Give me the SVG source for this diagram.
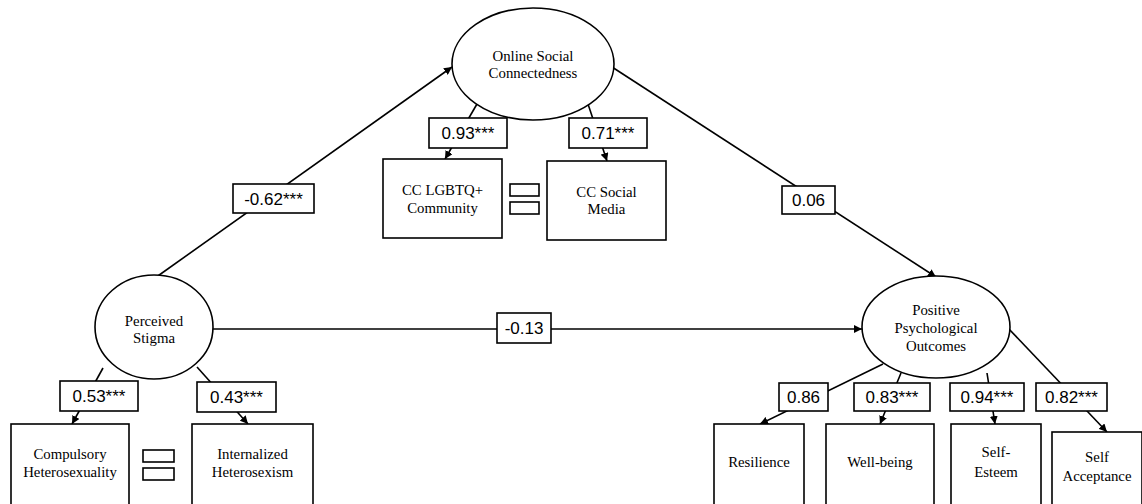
<svg xmlns="http://www.w3.org/2000/svg" width="1142" height="504" viewBox="0 0 1142 504">
  <style>
    .node { fill: #fff; stroke: #000; stroke-width: 1.6; }
    .conn { stroke: #000; stroke-width: 1.6; fill: none; }
    .lbl { fill: #fff; stroke: #000; stroke-width: 1.6; }
    .nt { font-family: "Liberation Serif", "Times New Roman", serif; font-size: 14.8px; fill: #000; text-anchor: middle; }
    .lt { font-family: "Liberation Sans", Arial, sans-serif; font-size: 17px; fill: #000; text-anchor: middle; }
  </style>
  <defs>
    <marker id="arrow" viewBox="0 0 10 10" refX="10" refY="5" markerWidth="8" markerHeight="8" markerUnits="userSpaceOnUse" orient="auto">
      <path d="M0,0 L10,5 L0,10 z" fill="#000"/>
    </marker>
  </defs>
  <rect width="1142" height="504" fill="#fff"/>

  <!-- connectors (drawn beneath the coefficient boxes) -->
  <g id="connectors">
    <line class="conn" x1="155" y1="278" x2="452" y2="67" marker-end="url(#arrow)"/>
    <line class="conn" x1="612" y1="67" x2="936" y2="277" marker-end="url(#arrow)"/>
    <line class="conn" x1="213" y1="329" x2="862" y2="329" marker-end="url(#arrow)"/>
    <line class="conn" x1="477" y1="104" x2="445" y2="159" marker-end="url(#arrow)"/>
    <line class="conn" x1="588" y1="104" x2="607" y2="161" marker-end="url(#arrow)"/>
    <line class="conn" x1="103" y1="368" x2="72" y2="424" marker-end="url(#arrow)"/>
    <line class="conn" x1="197" y1="367" x2="248" y2="424" marker-end="url(#arrow)"/>
    <line class="conn" x1="883" y1="364" x2="760" y2="424" marker-end="url(#arrow)"/>
    <line class="conn" x1="901" y1="373" x2="880" y2="424" marker-end="url(#arrow)"/>
    <line class="conn" x1="987" y1="373" x2="995" y2="424" marker-end="url(#arrow)"/>
    <line class="conn" x1="1008" y1="328" x2="1107" y2="432" marker-end="url(#arrow)"/>

    <!-- path coefficients -->
    <rect class="lbl" x="233" y="184" width="81" height="29"/>
    <text class="lt" x="273.5" y="205">-0.62***</text>
    <rect class="lbl" x="782" y="186" width="53" height="28"/>
    <text class="lt" x="808.5" y="206">0.06</text>
    <rect class="lbl" x="497" y="313" width="54" height="30"/>
    <text class="lt" x="524" y="334">-0.13</text>

    <!-- loadings -->
    <rect class="lbl" x="429" y="118" width="78" height="30"/>
    <text class="lt" x="468" y="139">0.93***</text>
    <rect class="lbl" x="569" y="118" width="78" height="30"/>
    <text class="lt" x="608" y="139">0.71***</text>
    <rect class="lbl" x="60" y="381" width="78" height="30"/>
    <text class="lt" x="99" y="402">0.53***</text>
    <rect class="lbl" x="197" y="382" width="79" height="30"/>
    <text class="lt" x="236.5" y="403">0.43***</text>
    <rect class="lbl" x="779" y="383" width="49" height="28"/>
    <text class="lt" x="803.5" y="403">0.86</text>
    <rect class="lbl" x="854" y="383" width="76" height="28"/>
    <text class="lt" x="892" y="403">0.83***</text>
    <rect class="lbl" x="950" y="383" width="74" height="28"/>
    <text class="lt" x="987" y="403">0.94***</text>
    <rect class="lbl" x="1036" y="383" width="71" height="28"/>
    <text class="lt" x="1071.5" y="403">0.82***</text>
  </g>

  <!-- latent variables -->
  <g id="online-social-connectedness">
    <ellipse class="node" cx="533" cy="64" rx="81" ry="56"/>
    <text class="nt" x="533" y="61">Online Social</text>
    <text class="nt" x="533" y="78">Connectedness</text>
  </g>
  <g id="perceived-stigma">
    <ellipse class="node" cx="154" cy="327" rx="59" ry="52"/>
    <text class="nt" x="154" y="326">Perceived</text>
    <text class="nt" x="154" y="343">Stigma</text>
  </g>
  <g id="positive-psychological-outcomes">
    <ellipse class="node" cx="936" cy="327" rx="74" ry="51"/>
    <text class="nt" x="936" y="315">Positive</text>
    <text class="nt" x="936" y="333">Psychological</text>
    <text class="nt" x="936" y="351">Outcomes</text>
  </g>

  <!-- indicators -->
  <g id="cc-lgbtq-community">
    <rect class="node" x="383" y="159" width="119" height="79"/>
    <text class="nt" x="442.5" y="195">CC LGBTQ+</text>
    <text class="nt" x="442.5" y="213">Community</text>
  </g>
  <g id="cc-social-media">
    <rect class="node" x="547" y="161" width="119" height="79"/>
    <text class="nt" x="606.5" y="197">CC Social</text>
    <text class="nt" x="606.5" y="214">Media</text>
  </g>
  <g id="equal-osc">
    <rect class="node" x="510" y="184" width="29" height="12"/>
    <rect class="node" x="510" y="202" width="29" height="12"/>
  </g>

  <g id="compulsory-heterosexuality">
    <rect class="node" x="11" y="424" width="118" height="82"/>
    <text class="nt" x="70" y="459">Compulsory</text>
    <text class="nt" x="70" y="477">Heterosexuality</text>
  </g>
  <g id="internalized-heterosexism">
    <rect class="node" x="192" y="424" width="121" height="82"/>
    <text class="nt" x="252.5" y="459">Internalized</text>
    <text class="nt" x="252.5" y="477">Heterosexism</text>
  </g>
  <g id="equal-ps">
    <rect class="node" x="143" y="450" width="31" height="12"/>
    <rect class="node" x="143" y="468" width="31" height="12"/>
  </g>

  <g id="resilience">
    <rect class="node" x="714" y="424" width="90" height="82"/>
    <text class="nt" x="759" y="467">Resilience</text>
  </g>
  <g id="well-being">
    <rect class="node" x="826" y="424" width="108" height="82"/>
    <text class="nt" x="880" y="467">Well-being</text>
  </g>
  <g id="self-esteem">
    <rect class="node" x="951" y="424" width="90" height="82"/>
    <text class="nt" x="996" y="457">Self-</text>
    <text class="nt" x="996" y="477">Esteem</text>
  </g>
  <g id="self-acceptance">
    <rect class="node" x="1052" y="432" width="90" height="74"/>
    <text class="nt" x="1097" y="462">Self</text>
    <text class="nt" x="1097" y="481">Acceptance</text>
  </g>
</svg>
